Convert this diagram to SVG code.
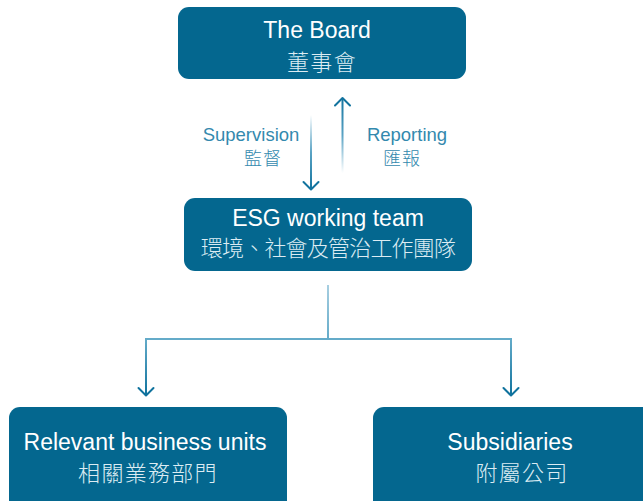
<svg xmlns="http://www.w3.org/2000/svg" width="643" height="501" viewBox="0 0 643 501">
<style>
.box{fill:#04678f}
.en{font-family:"Liberation Sans",Arial,sans-serif;font-size:23px;fill:#ffffff;text-anchor:middle}
.zh{font-family:"Liberation Sans","Noto Sans CJK TC",sans-serif;font-size:22px;font-weight:300;fill:#dcecf3;text-anchor:middle;letter-spacing:1.3px}
.lbl{font-family:"Liberation Sans",Arial,sans-serif;font-size:18.5px;fill:#3389ae;text-anchor:middle}
.lblzh{font-family:"Liberation Sans","Noto Sans CJK TC",sans-serif;font-size:18px;font-weight:300;fill:#3389ae;text-anchor:middle;letter-spacing:1px}
.head{fill:none;stroke-width:2;stroke-linecap:round;stroke-linejoin:round}
</style>
<defs>
<linearGradient id="gDown" gradientUnits="userSpaceOnUse" x1="0" y1="115" x2="0" y2="190">
<stop offset="0" stop-color="#ffffff"/><stop offset="0.5" stop-color="#5aa3c4"/><stop offset="1" stop-color="#12739e"/>
</linearGradient>
<linearGradient id="gUp" gradientUnits="userSpaceOnUse" x1="0" y1="173" x2="0" y2="97">
<stop offset="0" stop-color="#ffffff"/><stop offset="0.5" stop-color="#5aa3c4"/><stop offset="1" stop-color="#12739e"/>
</linearGradient>
<linearGradient id="gStem" gradientUnits="userSpaceOnUse" x1="0" y1="285" x2="0" y2="339">
<stop offset="0" stop-color="#a8cfe1"/><stop offset="1" stop-color="#64abc9"/>
</linearGradient>
<linearGradient id="gDrop" gradientUnits="userSpaceOnUse" x1="0" y1="339" x2="0" y2="396">
<stop offset="0" stop-color="#64abc9"/><stop offset="1" stop-color="#0f729d"/>
</linearGradient>
</defs>

<g id="connectors">
<line x1="311" y1="115" x2="311" y2="189" stroke="url(#gDown)" stroke-width="2"/>
<polyline class="head" stroke="#12739e" points="303.5,182 311,189.5 318.5,182"/>
<line x1="342.5" y1="173" x2="342.5" y2="98" stroke="url(#gUp)" stroke-width="2"/>
<polyline class="head" stroke="#12739e" points="335,105.5 342.5,98 350,105.5"/>
<line x1="328" y1="285" x2="328" y2="339" stroke="url(#gStem)" stroke-width="2"/>
<line x1="145" y1="339" x2="512" y2="339" stroke="#64abc9" stroke-width="2"/>
<line x1="146" y1="338" x2="146" y2="395" stroke="url(#gDrop)" stroke-width="2"/>
<polyline class="head" stroke="#0f729d" points="138.5,388 146,395.5 153.5,388"/>
<line x1="511" y1="338" x2="511" y2="395" stroke="url(#gDrop)" stroke-width="2"/>
<polyline class="head" stroke="#0f729d" points="503.5,388 511,395.5 518.5,388"/>
<text class="lbl" x="251" y="141">Supervision</text>
<text class="lblzh" x="263" y="165">監督</text>
<text class="lbl" x="407" y="141">Reporting</text>
<text class="lblzh" x="402" y="165">匯報</text>
</g>

<g id="board">
<rect class="box" x="178" y="7" width="288" height="72" rx="11"/>
<text class="en" x="317" y="38">The Board</text>
<text class="zh" x="322" y="70">董事會</text>
</g>

<g id="esg">
<rect class="box" x="184" y="198" width="288" height="73" rx="11"/>
<text class="en" x="328" y="226">ESG working team</text>
<text class="zh" x="328" y="256" style="letter-spacing:-0.8px">環境、社會及管治工作團隊</text>
</g>

<g id="units">
<rect class="box" x="9" y="407" width="278" height="110" rx="11"/>
<text class="en" x="145" y="450">Relevant business units</text>
<text class="zh" x="148" y="481">相關業務部門</text>
</g>

<g id="subsidiaries">
<rect class="box" x="373" y="407" width="282" height="110" rx="11"/>
<text class="en" x="510" y="450">Subsidiaries</text>
<text class="zh" x="522" y="481">附屬公司</text>
</g>
</svg>
